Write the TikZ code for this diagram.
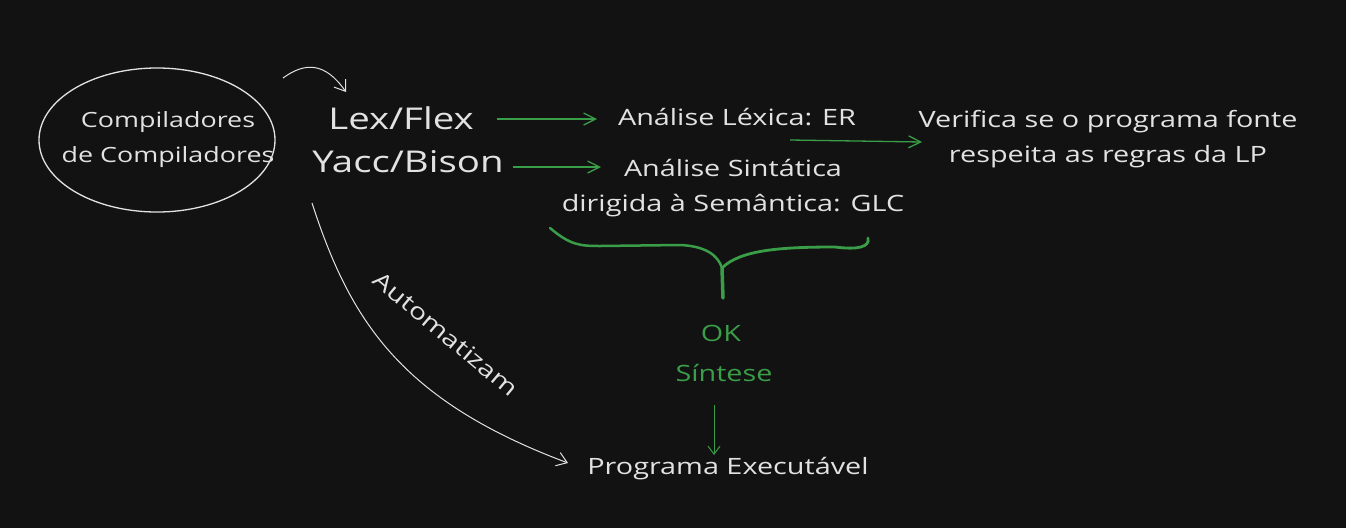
\documentclass[tikz,border=0pt]{standalone}
\usepackage{fontspec}
\setmainfont{Open Sans}[FakeStretch=1.28]
\usetikzlibrary{arrows.meta,shapes.geometric}
\definecolor{bg}{HTML}{121212}
\definecolor{fg}{HTML}{E2E2E2}
\definecolor{gr}{HTML}{3A9E48}
\tikzset{
  txt/.style={text=fg, font=\fontsize{22.5}{35.5}\selectfont, align=center, inner sep=0pt},
  etxt/.style={text=fg, font=\fontsize{21}{35}\selectfont, align=center, inner sep=0pt},
  big/.style={text=fg, font=\fontsize{30}{36}\selectfont, inner sep=0pt},
  gtxt/.style={text=gr, font=\fontsize{22.5}{26}\selectfont, inner sep=0pt},
  warrow/.style={draw=fg, line width=1pt, -{Straight Barb[length=10pt,width=14pt]}},
  garrow/.style={draw=gr, line width=1.3pt, -{Straight Barb[length=12pt,width=12pt]}},
}
\begin{document}
\begin{tikzpicture}[x=1pt,y=-1pt]
\fill[bg] (0,0) rectangle (1346,528);
\useasboundingbox (0,0) rectangle (1346,528);
\node[draw=fg, line width=1.3pt, ellipse, minimum width=236pt, minimum height=144pt] (ell) at (157,140) {};
\node[etxt] (cc) at (168,140) {Compiladores\\de Compiladores};
\node[big] (lex) at (401,118) {Lex/Flex};
\node[big] (yacc) at (408,162) {Yacc/Bison};
\node[txt] (lexa) at (737,117) {Análise Léxica: ER};
\node[txt] (sint) at (733,188) {Análise Sintática\\dirigida à Semântica: GLC};
\node[txt] (ver) at (1108,139) {Verifica se o programa fonte\\respeita as regras da LP};
\node[gtxt] (ok) at (721,333) {OK};
\node[gtxt] (sin) at (724,373) {Síntese};
\node[txt] (prog) at (728,469) {Programa Executável};
\node[txt, rotate=-40] (aut) at (446,334) {Automatizam};
\coordinate (a1s) at (283,78);
\coordinate (a1e) at (346,92);
\draw[warrow] (a1s) .. controls (305,62) and (325,62) .. (a1e);
\coordinate (lexe) at (497,119);
\coordinate (lexae) at (597,119);
\draw[garrow] (lexe) -- (lexae);
\coordinate (yacce) at (513,167);
\coordinate (sinte) at (601,167);
\draw[garrow] (yacce) -- (sinte);
\coordinate (ers) at (790,140);
\coordinate (vere) at (922,142);
\draw[garrow] (ers) -- (vere);
\coordinate (bl) at (550,228);
\coordinate (bm) at (722,268);
\coordinate (bt) at (723,298);
\coordinate (br) at (868,238);
\draw[gr, line width=2.5pt, line cap=round] (bl) .. controls (570,245) and (580,246) .. (600,246) -- (680,245) .. controls (705,246) and (718,255) .. (bm);
\draw[gr, line width=3.5pt, line cap=round] (bm) -- (bt);
\draw[gr, line width=2.8pt, line cap=round] (bm) .. controls (740,250) and (780,247) .. (835,247) .. controls (858,250) and (870,247) .. (br);
\coordinate (sb) at (714,405);
\coordinate (se) at (714,455);
\draw[draw=gr, line width=1pt, -{Straight Barb[length=8pt,width=12pt]}] (sb) -- (se);
\coordinate (as) at (312,203);
\coordinate (ae) at (568,463);
\draw[warrow] (as) .. controls (350,320) and (400,400) .. (ae);
\end{tikzpicture}
\end{document}
